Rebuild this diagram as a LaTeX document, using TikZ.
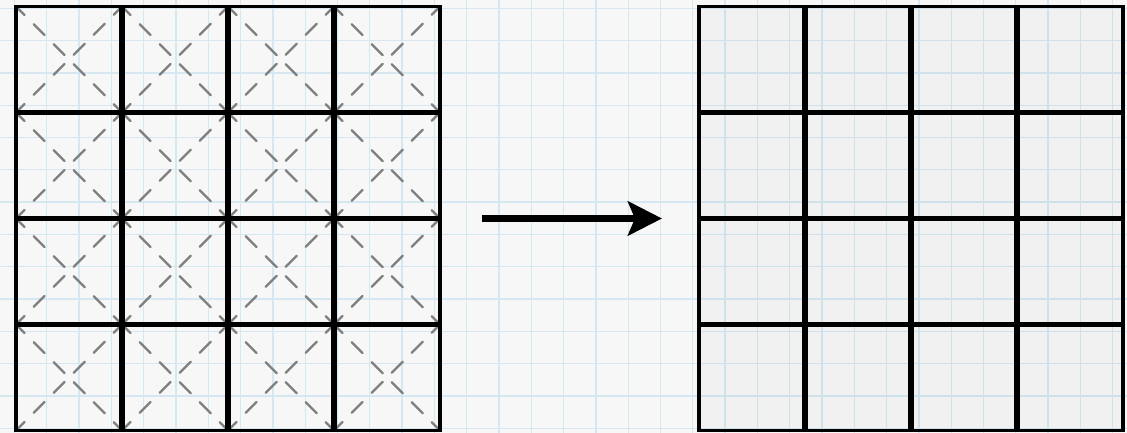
\documentclass[tikz,border=0pt]{standalone}
\usetikzlibrary{arrows.meta}
\definecolor{paper}{HTML}{F7F7F7}
\definecolor{ruling}{HTML}{D5E8F1}
\definecolor{diag}{HTML}{7F7F7F}
\tikzset{
  ruleline/.style={ruling, line width=1.3pt},
  gridframe/.style={draw=none, minimum size=424pt, inner sep=0pt, outer sep=0pt},
  border/.style={black, line width=3.5pt},
  divider/.style={black, line width=5.5pt},
  diagline/.style={diag, line width=2.4pt, line cap=round,
    dash pattern=on 15.5pt off 12.8pt, dash phase=3.3pt},
  bigarrow/.style={black, line width=7.5pt,
    -{Stealth[length=34pt, width=34pt, inset=7pt]}}
}
\begin{document}
\begin{tikzpicture}[x=1pt, y=-1pt]
\useasboundingbox (0,0) rectangle (1127,433);
% squared paper background
\fill[paper] (0,0) rectangle (1127,433);
\foreach \i in {0,...,34}
  \draw[ruleline] ({14.5+32.3*\i},0) -- ({14.5+32.3*\i},433);
\foreach \j in {0,...,13}
  \draw[ruleline] (0,{8.3+32.3*\j}) -- (1127,{8.3+32.3*\j});

% the two 4x4 grids
\node[gridframe] (leftgrid) at (228,218.5) {};
\node[gridframe] (rightgrid) at (911,218.5) {};

% dashed diagonals in every cell of the left grid
\foreach \c in {0,...,3}
  \foreach \r in {0,...,3} {
    \draw[diagline] ([shift={(106*\c,106*\r)}]leftgrid.north west) -- ++(106,106);
    \draw[diagline] ([shift={(106*\c,106*\r+106)}]leftgrid.north west) -- ++(106,-106);
  }

% slightly shaded interior of the right grid
\fill[black, opacity=0.022] (rightgrid.north west) rectangle (rightgrid.south east);

% grid lines
\foreach \g in {leftgrid, rightgrid} {
  \foreach \k in {1,2,3} {
    \draw[divider] ([xshift=106*\k]\g.north west) -- ([xshift=106*\k]\g.south west);
    \draw[divider] ([yshift=-106*\k]\g.north west) -- ([yshift=-106*\k]\g.north east);
  }
  \draw[border] (\g.north west) rectangle (\g.south east);
}

% transformation arrow
\draw[bigarrow] ([xshift=42pt]leftgrid.east) -- ([xshift=-37pt]rightgrid.west);
\end{tikzpicture}
\end{document}
